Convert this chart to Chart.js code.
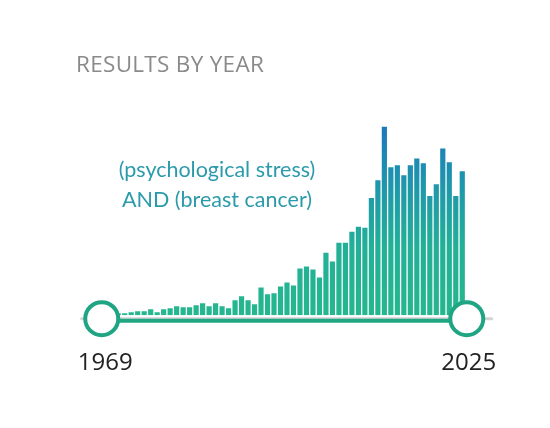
<!DOCTYPE html>
<html>
<head>
<meta charset="utf-8">
<script src="https://cdn.jsdelivr.net/npm/chart.js@4.4.1/dist/chart.umd.min.js"></script>
<style>
  body { margin: 0; background: #fff; }
  #wrap { position: relative; width: 550px; height: 428px; overflow: hidden; }
  #title {
    position: absolute; left: 76px; top: 53px;
    font-family: "Open Sans", sans-serif; font-size: 22.5px; line-height: 22.5px;
    color: #8a8a8a; letter-spacing: 0.3px; white-space: nowrap;
  }
  #query {
    position: absolute; left: 97px; top: 154px; width: 240px;
    font-family: "Lato", sans-serif; font-size: 21.5px; line-height: 30px;
    color: #2b9bab; text-align: center; white-space: nowrap;
  }
</style>
</head>
<body>
<div id="wrap">
  <canvas id="myChart" width="550" height="428"></canvas>
  <div id="title">RESULTS BY YEAR</div>
  <div id="query">(psychological stress)<br>AND (breast cancer)</div>
</div>
<script>
const years = [
  1969, 1970, 1971, 1972, 1973, 1974, 1975, 1976, 1977, 1978,
  1979, 1980, 1981, 1982, 1983, 1984, 1985, 1986, 1987, 1988,
  1989, 1990, 1991, 1992, 1993, 1994, 1995, 1996, 1997, 1998,
  1999, 2000, 2001, 2002, 2003, 2004, 2005, 2006, 2007, 2008,
  2009, 2010, 2011, 2012, 2013, 2014, 2015, 2016, 2017, 2018,
  2019, 2020, 2021, 2022, 2023, 2024, 2025
];

const results = [
  1, 1, 2, 2, 3, 4, 4, 6, 3, 6,
  7, 9, 8, 8, 10, 12, 9, 12, 9, 7,
  15, 19, 15, 11, 28, 21, 22, 29, 33, 30,
  47, 49, 46, 38, 63, 54, 73, 73, 84, 89,
  88, 118, 136, 190, 149, 151, 141, 151, 158, 153,
  120, 132, 168, 154, 120, 145, 12
];

// only the ends of the range get a label
const tickYears = [1969, 2025];

// slider drawn over the bars, like the range picker
const sliderPlugin = {
  id: 'slider',
  afterDatasetsDraw(chart) {
    const ctx = chart.ctx;
    const xs = chart.scales.x;
    const area = chart.chartArea;
    const left = xs.getPixelForValue(0) - 3.5;
    const right = xs.getPixelForValue(years.length - 1) - 2;
    const y = area.bottom + 3.5;

    ctx.save();
    ctx.lineCap = 'round';
    ctx.strokeStyle = '#d3d3d3';
    ctx.lineWidth = 3;
    ctx.beginPath();
    ctx.moveTo(left - 20, y);
    ctx.lineTo(right + 25, y);
    ctx.stroke();

    ctx.lineCap = 'butt';
    ctx.strokeStyle = '#1fa784';
    ctx.lineWidth = 4;
    ctx.beginPath();
    ctx.moveTo(left, y + 2);
    ctx.lineTo(right, y + 2);
    ctx.stroke();

    [left, right].forEach(cx => {
      ctx.beginPath();
      ctx.arc(cx, y, 16.5, 0, Math.PI * 2);
      ctx.fillStyle = '#fff';
      ctx.fill();
      ctx.lineWidth = 4;
      ctx.strokeStyle = '#20a584';
      ctx.stroke();
    });
    ctx.restore();
  }
};

function barGradient(context) {
  const chart = context.chart;
  const area = chart.chartArea;
  if (!area) return '#22b48f';
  const g = chart.ctx.createLinearGradient(0, area.bottom, 0, area.top);
  g.addColorStop(0, '#25b78e');
  g.addColorStop(0.35, '#22b098');
  g.addColorStop(0.65, '#1e98ab');
  g.addColorStop(1, '#1a73bf');
  return g;
}

const ctx = document.getElementById('myChart').getContext('2d');
const resultsChart = new Chart(ctx, {
  type: 'bar',
  data: {
    labels: years,
    datasets: [{
      label: 'Results',
      data: results,
      backgroundColor: barGradient,
      borderWidth: 0,
      barPercentage: 0.8,
      categoryPercentage: 1.0
    }]
  },
  options: {
    responsive: false,
    animation: false,
    layout: { padding: { left: 102, right: 78, top: 116.7, bottom: 16 } },
    plugins: {
      legend: { display: false },
      tooltip: { enabled: false }
    },
    scales: {
      x: {
        grid: { display: false, drawTicks: false },
        border: { display: false },
        ticks: {
          autoSkip: false,
          maxRotation: 0,
          padding: 34,
          color: '#222',
          font: { family: 'Open Sans', size: 24 },
          callback: function(value, index) {
            const yr = years[index];
            return tickYears.includes(yr) ? String(yr) : '';
          }
        }
      },
      y: {
        display: false,
        min: 0,
        max: 200
      }
    }
  },
  plugins: [sliderPlugin]
});
</script>
</body>
</html>
